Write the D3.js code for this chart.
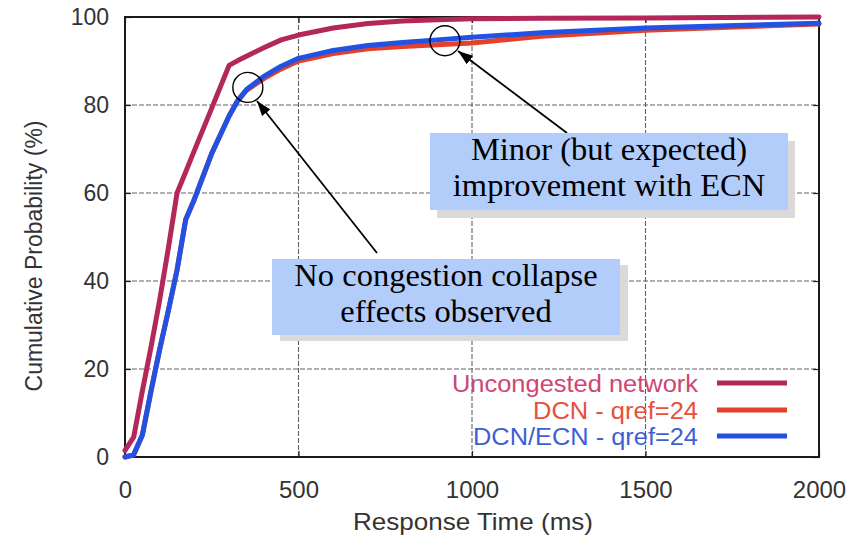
<!DOCTYPE html>
<html>
<head>
<meta charset="utf-8">
<script src="https://cdn.jsdelivr.net/npm/d3@7"></script>
<style>
  html, body { margin: 0; padding: 0; background: #fff; }
  svg { display: block; }
</style>
</head>
<body>
<svg id="chart" width="867" height="539"></svg>
<script>
// Response time samples (ms) shared by all three CDFs
const timeMs = [0, 25, 50, 75, 100, 125, 150, 175, 200, 250, 300, 325, 350, 400, 450, 500, 600, 700, 800, 900, 1000, 1200, 1500, 2000];

// Cumulative probability (%) for each configuration
const uncongestedPct = [1.5, 4.5, 15, 25, 35.7, 47.5, 60, 64.8, 69.7, 79.3, 89, 90.1, 91.1, 93, 94.8, 95.9, 97.5, 98.5, 99.1, 99.4, 99.6, 99.7, 99.8, 100];
const dcnPct         = [0, 0.5, 5, 15, 24.5, 33.3, 42.5, 54, 58.6, 69, 77.5, 81, 83.3, 86, 88.2, 90, 91.7, 92.8, 93.3, 93.7, 94.1, 95.6, 97.0, 98.4];
const ecnPct         = [0, 0.5, 5, 15, 24.5, 33.3, 42.5, 54, 58.6, 69, 77.5, 81, 83.5, 86.5, 88.8, 90.6, 92.4, 93.5, 94.2, 94.8, 95.4, 96.4, 97.5, 98.6];

const seriesNames  = ["Uncongested network", "DCN - qref=24", "DCN/ECN - qref=24"];
const seriesValues = [uncongestedPct, dcnPct, ecnPct];
const lineColors   = ["#b3275a", "#e5402a", "#2152e3"];
const labelColors  = ["#cf4672", "#e6503c", "#3e5fd4"];

const xTicks = [0, 500, 1000, 1500, 2000];
const yTicks = [0, 20, 40, 60, 80, 100];

const svg = d3.select("#chart");
const x = d3.scaleLinear().domain([0, 2000]).range([125, 819]);
const y = d3.scaleLinear().domain([0, 100]).range([457, 17]);

const sans = "'Liberation Sans', Arial, Helvetica, sans-serif";
const serif = "'Liberation Serif', 'Times New Roman', Times, serif";

// dashed grid
const grid = svg.append("g").attr("stroke", "#4a4a4a").attr("stroke-width", 1.1)
  .attr("stroke-dasharray", "5,2").attr("opacity", 0.85);
grid.selectAll("line.h").data(yTicks.filter(v => v > 0 && v < 100)).join("line")
  .attr("x1", x(0)).attr("x2", x(2000)).attr("y1", d => y(d)).attr("y2", d => y(d));
grid.selectAll("line.v").data(xTicks.filter(v => v > 0 && v < 2000)).join("line")
  .attr("y1", y(0)).attr("y2", y(100)).attr("x1", d => x(d)).attr("x2", d => x(d));

// axes with inward ticks
const fmt = d3.format("d");
const axL = svg.append("g").attr("transform", `translate(${x(0)},0)`)
  .call(d3.axisLeft(y).tickValues(yTicks).tickSize(-6).tickPadding(22).tickFormat(fmt));
const axB = svg.append("g").attr("transform", `translate(0,${y(0)})`)
  .call(d3.axisBottom(x).tickValues(xTicks).tickSize(-6).tickPadding(24).tickFormat(fmt));
svg.append("g").attr("transform", `translate(${x(2000)},0)`)
  .call(d3.axisRight(y).tickValues(yTicks).tickSize(-6).tickFormat(""));
svg.append("g").attr("transform", `translate(0,${y(100)})`)
  .call(d3.axisTop(x).tickValues(xTicks).tickSize(-6).tickFormat(""));
svg.selectAll(".domain").remove();
svg.selectAll(".tick line").attr("stroke", "#222").attr("stroke-width", 1.2);
axL.selectAll("text").attr("font-family", sans).attr("font-size", 23).attr("fill", "#333").attr("dx", 6);
axB.selectAll("text").attr("font-family", sans).attr("font-size", 24).attr("fill", "#333");

// frame
svg.append("rect").attr("x", x(0)).attr("y", y(100))
  .attr("width", x(2000) - x(0)).attr("height", y(0) - y(100))
  .attr("fill", "none").attr("stroke", "#1a1a1a").attr("stroke-width", 2);

// axis titles
svg.append("text").attr("x", 473).attr("y", 530).attr("text-anchor", "middle")
  .attr("font-family", sans).attr("font-size", 24).attr("fill", "#333")
  .attr("textLength", 240).attr("lengthAdjust", "spacingAndGlyphs")
  .text("Response Time (ms)");
svg.append("text").attr("transform", "translate(42,256) rotate(-90)").attr("text-anchor", "middle")
  .attr("font-family", sans).attr("font-size", 23).attr("fill", "#333")
  .text("Cumulative Probability (%)");

// curves
const line = d3.line().x((d, i) => x(timeMs[i])).y(d => y(d)).curve(d3.curveLinear);
const curves = svg.append("g").attr("fill", "none").attr("stroke-width", 5)
  .attr("stroke-linejoin", "round").attr("stroke-linecap", "round");
seriesValues.forEach((vals, i) => {
  curves.append("path").attr("d", line(vals)).attr("stroke", lineColors[i]);
});

// legend: one text block, one coloured line per entry
const legendY = [383, 410, 436];
const legendBase = [392, 418.5, 445];
const legendWidth = [246, 165, 225];
const lgText = svg.append("text").attr("text-anchor", "end")
  .attr("font-family", sans).attr("font-size", 23.5);
seriesNames.forEach((name, i) => {
  lgText.append("tspan").attr("x", 698).attr("y", legendBase[i])
    .attr("textLength", legendWidth[i]).attr("lengthAdjust", "spacingAndGlyphs")
    .attr("fill", labelColors[i]).text(name);
  svg.append("line").attr("x1", 717).attr("x2", 787).attr("y1", legendY[i]).attr("y2", legendY[i])
    .attr("stroke", lineColors[i]).attr("stroke-width", 5);
});

// callouts: circle on the curve, arrow to a shaded note box
const defs = svg.append("defs");
defs.append("marker").attr("id", "head").attr("viewBox", "0 0 14 10")
  .attr("refX", 14).attr("refY", 5).attr("markerWidth", 15).attr("markerHeight", 11)
  .attr("markerUnits", "userSpaceOnUse").attr("orient", "auto")
  .append("path").attr("d", "M0,0 L14,5 L0,10 Z").attr("fill", "#000");

const notes = [
  { ms: 354, pct: 84, tail: [377, 253], tip: [257, 101],
    box: [272, 259, 348, 76], shadow: [8, 6], cx: 446, lines: ["No congestion collapse", "effects observed"], base: [286, 322] },
  { ms: 922, pct: 94.6, tail: [567, 133], tip: [458, 51],
    box: [430, 133, 358, 77], shadow: [7, 8], cx: 609, lines: ["Minor (but expected)", "improvement with ECN"], base: [160, 196] }
];
notes.forEach(n => {
  svg.append("circle").attr("cx", x(n.ms)).attr("cy", y(n.pct)).attr("r", 15)
    .attr("fill", "none").attr("stroke", "#000").attr("stroke-width", 1.4);
  svg.append("line").attr("x1", n.tail[0]).attr("y1", n.tail[1]).attr("x2", n.tip[0]).attr("y2", n.tip[1])
    .attr("stroke", "#000").attr("stroke-width", 1.8).attr("marker-end", "url(#head)");
  const [bx, by, bw, bh] = n.box;
  svg.append("rect").attr("x", bx + n.shadow[0]).attr("y", by + n.shadow[1]).attr("width", bw).attr("height", bh)
    .attr("fill", "#dadada");
  svg.append("rect").attr("x", bx).attr("y", by).attr("width", bw).attr("height", bh)
    .attr("fill", "#b3cdfb");
  const t = svg.append("text").attr("text-anchor", "middle")
    .attr("font-family", serif).attr("font-size", 32.5).attr("fill", "#000");
  n.lines.forEach((s, k) => {
    t.append("tspan").attr("x", n.cx).attr("y", n.base[k]).text(s);
  });
});
</script>
</body>
</html>
